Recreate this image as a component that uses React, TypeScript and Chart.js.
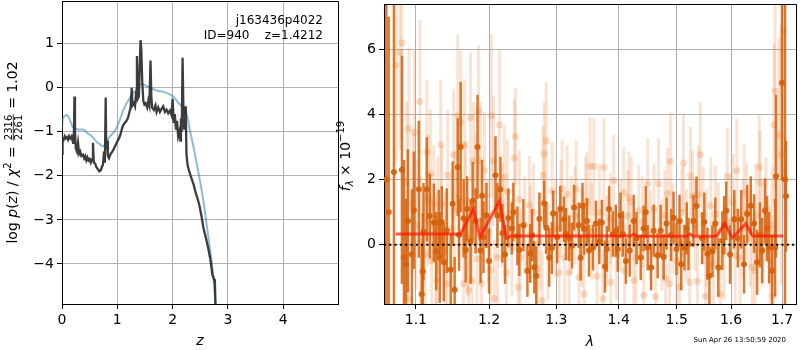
import React, { useEffect, useRef } from "react";
import { Chart, registerables } from "chart.js";
Chart.register(...registerables);

const FONT = "'DejaVu Sans', 'Liberation Sans', sans-serif";

// ---------- Left panel: redshift PDF ----------
const zTicks = [0, 1, 2, 3, 4];
const logpTicks = [1, 0, -1, -2, -3, -4];
const zMin = 0, zMax = 4.99;
const logpMin = -4.91, logpMax = 1.97;

const pzZ = [0.000,0.010,0.030,0.050,0.070,0.090,0.110,0.130,0.150,0.175,
0.200,0.215,0.225,0.235,0.250,0.270,0.290,0.310,0.330,0.350,
0.380,0.400,0.420,0.440,0.460,0.480,0.500,0.520,0.545,0.560,
0.575,0.600,0.620,0.650,0.675,0.700,0.720,0.740,0.760,0.775,
0.790,0.800,0.815,0.830,0.850,0.880,0.910,0.940,0.970,1.000,
1.030,1.060,1.090,1.120,1.150,1.180,1.200,1.220,1.240,1.260,
1.275,1.300,1.320,1.340,1.355,1.370,1.390,1.410,1.420,1.435,
1.450,1.470,1.490,1.510,1.540,1.560,1.580,1.600,1.615,1.630,
1.660,1.690,1.710,1.740,1.770,1.800,1.830,1.860,1.890,1.920,
1.950,1.980,2.000,2.020,2.040,2.060,2.080,2.100,2.120,2.140,
2.150,2.165,2.180,2.195,2.210,2.225,2.240,2.250,2.270,2.300,
2.340,2.380,2.420,2.440,2.480,2.520,2.560,2.600,2.640,2.680,
2.720,2.750,2.765,2.780];
const pzLog = [-1.50,-1.15,-1.18,-1.10,-1.15,-1.12,-1.18,-1.10,-1.15,-1.10,
-1.25,-1.10,-0.20,-1.00,-1.38,-1.45,-1.25,-1.50,-1.45,-1.55,
-1.52,-1.60,-1.55,-1.65,-1.58,-1.65,-1.62,-1.70,-1.62,-1.25,
-1.70,-1.72,-1.80,-1.85,-1.90,-1.88,-1.80,-1.75,-1.45,-1.70,
-0.22,-1.40,-1.20,-1.55,-1.60,-1.50,-1.45,-1.38,-1.30,-1.22,
-1.15,-1.05,-0.90,-0.82,-0.78,-0.72,-0.65,-0.55,-0.45,0.00,
-0.40,-0.35,-0.42,-0.10,0.72,-0.25,-0.20,0.70,1.08,0.85,
0.15,-0.30,-0.38,-0.35,-0.45,-0.30,-0.40,0.62,-0.20,-0.45,
-0.50,-0.40,-0.55,-0.45,-0.55,-0.48,-0.42,-0.55,-0.50,-0.58,
-0.52,-0.62,-0.25,-0.80,-0.60,-0.95,-0.75,-1.10,-1.00,-1.20,
-0.70,-1.00,0.68,-0.50,-0.95,-0.42,-0.70,-1.50,-1.75,-1.90,
-2.05,-2.20,-2.40,-2.47,-2.65,-2.90,-3.20,-3.40,-3.62,-3.88,
-4.25,-4.35,-4.45,-5.20];

const priorZ = [0.00,0.02,0.09,0.14,0.20,0.30,0.39,0.45,0.54,0.62,
0.69,0.75,0.80,0.87,0.93,0.99,1.05,1.11,1.17,1.23,
1.30,1.36,1.41,1.46,1.50,1.60,1.70,1.77,1.85,1.95,
2.03,2.10,2.15,2.20,2.26,2.31,2.37,2.44,2.50,2.56,
2.62,2.68,2.73,2.77,2.80];
const priorLog = [-0.95,-0.68,-0.62,-0.72,-0.90,-0.95,-0.95,-1.02,-1.10,-1.22,
-1.29,-1.33,-1.22,-1.10,-1.02,-0.90,-0.72,-0.50,-0.35,-0.23,
-0.10,0.00,0.07,0.08,0.06,0.00,-0.06,-0.08,-0.10,-0.15,
-0.22,-0.34,-0.40,-0.47,-0.62,-0.95,-1.30,-1.75,-2.15,-2.60,
-3.15,-3.70,-4.20,-4.85,-5.30];

const objName = "j163436p4022";
const objInfo = "ID=940    z=1.4212";
const chi2Num = "2316";
const chi2Den = "2261";
const chi2Val = "1.02";

// ---------- Right panel: spectrum ----------
const lamTicks = [1.1, 1.2, 1.3, 1.4, 1.5, 1.6, 1.7];
const fluxTicks = [0, 2, 4, 6];
const lamMin = 1.0591, lamMax = 1.7285;
const fluxMin = -1.82, fluxMax = 7.39;

const darkWave = [1.062,1.065,1.0717,1.0819,1.0845,1.0871,1.0896,1.0948,1.0974,1.1039,
1.1078,1.1091,1.1100,1.1144,1.1184,1.1237,1.1270,1.1304,1.1317,1.1344,
1.1371,1.1411,1.1465,1.1492,1.1519,1.1561,1.1580,1.1602,1.1643,1.1671,
1.1690,1.1740,1.1768,1.1810,1.1837,1.1879,1.1900,1.1921,1.1963,1.2000,
1.2092,1.2120,1.2163,1.2192,1.2230,1.2279,1.2330,1.2352,1.2411,1.2440,
1.2500,1.2560,1.2602,1.2630,1.2663,1.2693,1.2740,1.2813,1.2844,1.2889,
1.2930,1.2951,1.3012,1.3060,1.3120,1.3151,1.3200,1.3245,1.3277,1.3350,
1.3380,1.3410,1.3434,1.3482,1.3514,1.3578,1.3626,1.3680,1.3723,1.3772,
1.3804,1.3840,1.3902,1.3951,1.3984,1.4030,1.4068,1.4120,1.4185,1.4253,
1.4300,1.4372,1.4420,1.4457,1.4491,1.4550,1.4595,1.4664,1.4716,1.4768,
1.4820,1.4900,1.4943,1.4996,1.5049,1.5080,1.5139,1.5180,1.5211,1.5301,
1.5356,1.5460,1.5500,1.5557,1.5594,1.5650,1.5704,1.5760,1.5835,1.5870,
1.5910,1.5980,1.6062,1.6130,1.6195,1.6250,1.6311,1.6380,1.6445,1.6504,
1.6560,1.6603,1.6662,1.6700,1.6741,1.6800,1.6861,1.6880,1.7000,1.7061,
1.7081];
const darkFlux = [2.0,1.0,2.23,2.3,-0.4,-0.59,0.73,-0.3,1.06,1.7,
-1.52,-0.82,0.4,1.7,0.88,0.68,-0.2,0.68,-0.39,0.7,
-0.54,0.43,-0.77,1.26,-1.38,2.38,0.3,3.0,0.81,-0.16,
1.1,0.1,1.34,0.73,3.0,-0.18,1.5,0.23,0.9,-0.5,
2.13,0.9,1.7,0.35,-0.3,0.82,0.5,1.0,0.27,-0.16,
0.6,-0.8,-0.27,0.3,-0.69,-0.95,0.8,1.27,0.52,-0.39,
-0.1,0.96,0.23,1.1,0.78,0.33,0.2,-0.03,1.14,0.6,
-0.4,1.2,0.48,0.73,-0.18,-0.09,0.65,0.1,0.68,-0.67,
-0.13,1.1,0.33,0.43,-0.13,0.9,0.33,-0.5,-0.18,0.73,
0.2,-0.39,0.5,1.0,-0.09,-0.7,0.43,-0.33,0.43,-0.37,
0.65,0.3,0.83,-0.13,0.73,-0.6,-0.09,0.5,0.02,0.73,
1.19,0.2,0.7,-0.28,-0.95,-0.2,0.65,-0.7,0.12,0.6,
1.04,-0.3,0.78,0.2,0.78,-0.6,0.94,1.2,0.65,-0.54,
0.3,-0.18,1.04,0.5,-0.09,-0.8,-0.09,2.1,4.97,2.0,
1.49];
const darkErr = [6.0,6.0,5.5,3.5,3.0,2.0,2.2,2.0,1.8,2.1,
1.5,1.8,1.5,1.6,1.3,1.2,1.2,1.0,1.4,1.1,
1.2,1.3,1.1,1.3,1.0,1.5,1.1,2.0,1.2,1.0,
1.0,1.3,1.2,1.0,1.6,1.0,1.1,1.1,1.0,1.0,
1.2,1.0,1.0,0.9,0.9,0.9,0.8,0.9,0.9,0.8,
0.8,0.8,0.9,0.8,0.8,0.9,0.8,0.7,0.8,0.9,
0.8,0.7,0.8,0.7,0.7,0.8,0.7,0.7,0.7,0.7,
0.7,0.7,0.8,0.7,0.8,0.7,0.7,0.7,0.7,0.8,
0.7,0.7,0.7,0.8,0.7,0.7,0.7,0.7,0.8,0.8,
0.8,0.7,0.7,0.8,0.7,0.7,0.8,0.7,0.8,0.7,
0.8,0.8,0.8,0.8,0.8,0.8,0.7,0.8,0.8,0.8,
0.9,0.8,0.9,0.8,0.9,0.8,0.8,0.9,0.9,0.9,
0.9,0.9,0.9,0.9,0.9,0.9,0.9,0.9,0.9,1.0,
1.0,1.0,1.0,1.0,1.1,1.1,1.5,2.5,3.0,6.0,
1.7];

const lightWave = [1.0743,1.0794,1.0819,1.0883,1.0896,1.0909,1.0961,1.0983,1.1000,1.1052,
1.1059,1.1120,1.1144,1.1160,1.1192,1.1210,1.1237,1.1264,1.1277,1.1290,
1.1331,1.1344,1.1390,1.1411,1.1424,1.1480,1.1506,1.1520,1.1561,1.1574,
1.1602,1.1643,1.1657,1.1670,1.1700,1.1712,1.1740,1.1760,1.1782,1.1810,
1.1830,1.1851,1.1879,1.1893,1.1935,1.1990,1.2020,1.2034,1.2063,1.2077,
1.2121,1.2149,1.2190,1.2221,1.2250,1.2265,1.2330,1.2367,1.2382,1.2425,
1.2440,1.2455,1.2520,1.2588,1.2604,1.2650,1.2708,1.2750,1.2784,1.2797,
1.2813,1.2844,1.2870,1.2935,1.2990,1.3043,1.3070,1.3090,1.3130,1.3167,
1.3198,1.3230,1.3290,1.3309,1.3355,1.3400,1.3434,1.3460,1.3482,1.3530,
1.3560,1.3594,1.3643,1.3680,1.3740,1.3756,1.3800,1.3860,1.3869,1.3918,
1.3960,1.4030,1.4085,1.4100,1.4152,1.4169,1.4210,1.4253,1.4290,1.4337,
1.4400,1.4423,1.4491,1.4540,1.4600,1.4629,1.4681,1.4740,1.4790,1.4803,
1.4838,1.4872,1.4890,1.4930,1.5000,1.5049,1.5090,1.5121,1.5170,1.5230,
1.5247,1.5283,1.5330,1.5374,1.5392,1.5428,1.5480,1.5519,1.5540,1.5620,
1.5670,1.5704,1.5760,1.5798,1.5870,1.5929,1.5990,1.6040,1.6081,1.6110,
1.6170,1.6230,1.6253,1.6300,1.6370,1.6409,1.6460,1.6480,1.6544,1.6563,
1.6620,1.6680,1.6760,1.6800,1.6822,1.6841,1.6861,1.6940,1.6980,1.7040];
const lightFlux = [5.5,5.9,6.2,1.9,-1.65,3.56,1.25,3.45,0.6,4.4,
0.1,-0.3,2.85,1.37,2.16,-0.49,1.26,-0.24,-1.1,0.9,
3.07,1.25,-0.2,-1.2,2.13,0.5,2.76,1.06,3.95,1.43,
3.77,-1.2,3.07,1.34,0.2,-1.4,3.9,-1.1,2.58,1.64,
-0.44,4.1,2.58,-1.2,2.28,0.4,-0.77,3.96,2.58,-1.65,
-0.39,3.68,0.9,2.07,-0.85,1.64,-0.1,2.66,3.32,-1.3,
1.39,-0.39,0.6,1.22,0.33,1.0,-0.74,0.1,-1.71,2.13,
2.79,3.19,-0.2,1.64,0.5,-0.87,1.1,1.73,-0.4,1.56,
-0.85,0.6,0.9,1.7,-1.0,0.2,-1.52,1.2,1.34,2.41,
0.4,2.4,-0.97,1.0,-1.65,2.38,0.1,0.8,-1.15,1.97,
-0.3,0.6,1.6,-0.79,0.88,1.45,1.3,-1.1,-0.4,1.05,
0.7,-1.55,1.87,0.3,1.1,-1.6,1.87,0.0,0.9,-1.04,
1.57,-1.2,2.56,0.5,-0.5,-1.3,1.0,2.51,0.3,-1.15,
2.12,1.5,0.6,-1.12,1.54,2.77,0.9,-1.58,0.2,1.2,
-0.6,0.94,0.4,-1.52,-0.2,2.1,0.7,1.3,-0.33,2.28,
-0.4,0.5,1.6,1.0,0.2,-0.69,-0.8,0.9,2.38,1.9,
0.3,1.1,-0.5,0.6,-1.55,3.68,4.72,3.35,2.78,6.55];
const lightErr = [3.0,3.0,3.0,2.5,2.5,2.5,2.2,2.5,2.0,2.5,
2.0,2.0,2.2,2.0,2.0,2.0,1.8,1.8,2.0,1.8,
2.0,1.8,1.8,1.8,2.0,1.8,2.0,1.8,2.5,1.8,
2.2,1.8,2.0,1.8,1.8,1.8,2.0,1.8,1.8,1.8,
1.8,2.0,1.8,1.8,1.8,1.6,1.8,2.5,2.0,1.8,
1.7,2.3,1.6,1.6,1.6,1.6,1.5,1.8,1.5,1.5,
1.5,1.5,1.5,1.5,1.5,1.5,1.5,1.5,1.5,1.5,
1.6,1.8,1.5,1.5,1.5,1.5,1.5,1.5,1.5,1.5,
1.5,1.5,1.5,1.5,1.5,1.5,1.5,1.5,1.5,1.5,
1.5,1.5,1.5,1.5,1.5,1.5,1.4,1.4,1.4,1.4,
1.4,1.4,1.4,1.4,1.4,1.4,1.4,1.4,1.4,1.4,
1.4,1.4,1.4,1.4,1.4,1.4,1.4,1.4,1.4,1.4,
1.4,1.4,1.5,1.4,1.4,1.4,1.4,1.5,1.4,1.4,
1.5,1.4,1.4,1.5,1.5,1.6,1.5,1.5,1.5,1.5,
1.5,1.5,1.5,1.5,1.5,1.5,1.5,1.5,1.5,1.6,
1.5,1.5,1.5,1.5,1.5,1.5,1.6,1.6,1.6,1.6,
1.6,1.6,1.7,1.8,2.0,2.5,3.0,3.0,4.0,5.0];

const modelWave = [1.074,1.160,1.178,1.187,1.215,1.225,1.232,1.420,1.425,1.430,1.518,1.524,1.530,1.573,1.588,1.602,1.608,1.628,1.642,1.702];
const modelFlux = [0.33,0.33,1.10,0.22,1.34,0.20,0.27,0.27,0.33,0.27,0.26,0.33,0.26,0.26,0.65,0.22,0.30,0.65,0.27,0.27];

const timeStamp = "Sun Apr 26 13:50:59 2020";

// ---------- helpers ----------
const minusFmt = (v: number) => (v < 0 ? "\u2212" + Math.abs(v) : String(v));

function errorBarPoints(w: number[], f: number[], e: number[]) {
  const pts: { x: number; y: number | null }[] = [];
  w.forEach((x, i) => {
    pts.push({ x, y: f[i] - e[i] }, { x, y: f[i] + e[i] }, { x, y: null });
  });
  return pts;
}
const xy = (xs: number[], ys: number[]) => xs.map((x, i) => ({ x, y: ys[i] }));

type Piece = { t: string; font: string; dy: number } | { num: string; den: string; font: string };

function drawPieces(ctx: CanvasRenderingContext2D, pieces: Piece[]) {
  const widths = pieces.map((p) => {
    ctx.font = p.font;
    if ("t" in p) return ctx.measureText(p.t).width;
    return Math.max(ctx.measureText(p.num).width, ctx.measureText(p.den).width) + 3;
  });
  const total = widths.reduce((a, b) => a + b, 0);
  let x = -total / 2;
  ctx.textBaseline = "alphabetic";
  pieces.forEach((p, i) => {
    ctx.font = p.font;
    const w = widths[i];
    if ("t" in p) {
      ctx.textAlign = "left";
      ctx.fillText(p.t, x, p.dy);
    } else {
      ctx.textAlign = "center";
      ctx.fillText(p.num, x + w / 2, -5.5);
      ctx.fillText(p.den, x + w / 2, 4.5);
      ctx.beginPath();
      ctx.lineWidth = 0.8;
      ctx.moveTo(x + 1, -3.7);
      ctx.lineTo(x + w - 1, -3.7);
      ctx.stroke();
    }
    x += w;
  });
}

function drawFrame(chart: any) {
  const { ctx, chartArea: ca } = chart;
  ctx.save();
  ctx.strokeStyle = "#000";
  ctx.lineWidth = 1;
  ctx.beginPath();
  ctx.moveTo(Math.round(ca.left), Math.round(ca.top) + 0.5);
  ctx.lineTo(Math.round(ca.right) + 0.5, Math.round(ca.top) + 0.5);
  ctx.lineTo(Math.round(ca.right) + 0.5, Math.round(ca.bottom));
  ctx.stroke();
  ctx.restore();
}

const noPad = (s: any) => {
  s.paddingTop = 0;
  s.paddingBottom = 0;
  s.paddingLeft = 0;
  s.paddingRight = 0;
};

const axisBase = (ticks: number[], fmt: (v: number) => string) => ({
  afterBuildTicks: (s: any) => {
    s.ticks = ticks.map((v) => ({ value: v }));
  },
  grid: { color: "#b0b0b0", lineWidth: 1, tickColor: "#000", tickLength: 5, drawTicks: true },
  border: { color: "#000", width: 1 },
  ticks: {
    color: "#000",
    font: { family: FONT, size: 14 },
    padding: 3,
    autoSkip: false,
    maxRotation: 0,
    callback: (v: any) => fmt(Number(v)),
  },
});

const leftPlugin = {
  id: "leftText",
  afterDraw(chart: any) {
    drawFrame(chart);
    const { ctx, chartArea: ca } = chart;
    ctx.save();
    ctx.fillStyle = "#000";
    ctx.strokeStyle = "#000";
    ctx.font = `12px ${FONT}`;
    ctx.textAlign = "right";
    ctx.textBaseline = "alphabetic";
    ctx.fillText(objName, ca.right - 15, 24);
    ctx.fillText(objInfo, ca.right - 15, 39);
    ctx.font = `italic 14px ${FONT}`;
    ctx.textAlign = "center";
    ctx.fillText("z", (ca.left + ca.right) / 2, 345);
    ctx.translate(17, (ca.top + ca.bottom) / 2);
    ctx.rotate(-Math.PI / 2);
    const R = `14px ${FONT}`, I = `italic 14px ${FONT}`, S = `10px ${FONT}`;
    drawPieces(ctx, [
      { t: "log ", font: R, dy: 0 },
      { t: "p", font: I, dy: 0 },
      { t: "(", font: R, dy: 0 },
      { t: "z", font: I, dy: 0 },
      { t: ") / ", font: R, dy: 0 },
      { t: "\u03c7", font: I, dy: 0 },
      { t: "2", font: S, dy: -6 },
      { t: " = ", font: R, dy: 0 },
      { num: chi2Num, den: chi2Den, font: S },
      { t: " = " + chi2Val, font: R, dy: 0 },
    ]);
    ctx.restore();
  },
};

const rightPlugin = {
  id: "rightText",
  afterDraw(chart: any) {
    drawFrame(chart);
    const { ctx, chartArea: ca } = chart;
    ctx.save();
    ctx.fillStyle = "#000";
    ctx.font = `italic 14px ${FONT}`;
    ctx.textAlign = "center";
    ctx.textBaseline = "alphabetic";
    ctx.fillText("\u03bb", (ca.left + ca.right) / 2, 346);
    ctx.font = `7px ${FONT}`;
    ctx.textAlign = "right";
    ctx.fillText(timeStamp, ca.right - 10, 342);
    ctx.translate(20, (ca.top + ca.bottom) / 2 + 2);
    ctx.rotate(-Math.PI / 2);
    const R = `14px ${FONT}`, I = `italic 14px ${FONT}`, S = `10px ${FONT}`, SI = `italic 10px ${FONT}`;
    drawPieces(ctx, [
      { t: "f", font: I, dy: 0 },
      { t: "\u03bb", font: SI, dy: 3 },
      { t: " \u00d7 10", font: R, dy: 0 },
      { t: "\u221219", font: S, dy: -6 },
    ]);
    ctx.restore();
  },
};

function LeftChart() {
  const ref = useRef<HTMLCanvasElement>(null);
  useEffect(() => {
    const chart = new Chart(ref.current as HTMLCanvasElement, {
      type: "line",
      data: {
        datasets: [
          {
            data: xy(pzZ, pzLog),
            borderColor: "rgba(40,40,40,0.9)",
            borderWidth: 2.3,
            pointRadius: 0,
            tension: 0,
            order: 0,
          },
          {
            data: xy(priorZ, priorLog),
            borderColor: "rgba(31,119,180,0.5)",
            borderWidth: 2,
            pointRadius: 0,
            tension: 0.3,
            order: 1,
          },
        ],
      },
      options: {
        animation: false,
        responsive: false,
        devicePixelRatio: 1,
        layout: { padding: { top: 1, right: 2, left: 0, bottom: 0 } },
        plugins: { legend: { display: false }, tooltip: { enabled: false } },
        scales: {
          x: {
            type: "linear",
            min: zMin,
            max: zMax,
            afterFit: (s: any) => {
              s.height = 46;
              noPad(s);
            },
            ...axisBase(zTicks, (v) => String(v)),
          },
          y: {
            type: "linear",
            min: logpMin,
            max: logpMax,
            afterFit: (s: any) => {
              s.width = 62;
              noPad(s);
            },
            ...axisBase(logpTicks, minusFmt),
          },
        },
      } as any,
      plugins: [leftPlugin],
    });
    return () => chart.destroy();
  }, []);
  return <canvas ref={ref} width={340} height={350} style={{ position: "absolute", left: 0, top: 0 }} />;
}

function RightChart() {
  const ref = useRef<HTMLCanvasElement>(null);
  useEffect(() => {
    const chart = new Chart(ref.current as HTMLCanvasElement, {
      type: "line",
      data: {
        datasets: [
          {
            data: [
              { x: lamMin, y: 0 },
              { x: lamMax, y: 0 },
            ],
            borderColor: "#000",
            borderWidth: 2,
            borderDash: [2, 3.3],
            pointRadius: 0,
            order: 0,
          },
          {
            data: xy(modelWave, modelFlux),
            borderColor: "rgba(255,20,0,0.7)",
            borderWidth: 3,
            pointRadius: 0,
            tension: 0,
            order: 1,
          },
          {
            data: xy(darkWave, darkFlux),
            showLine: false,
            pointRadius: 3,
            pointBorderWidth: 0,
            pointBackgroundColor: "rgba(214,98,12,0.95)",
            order: 2,
          },
          {
            data: errorBarPoints(darkWave, darkFlux, darkErr),
            borderColor: "rgba(214,98,12,0.85)",
            borderWidth: 2.5,
            pointRadius: 0,
            spanGaps: false,
            segment: {},
            order: 3,
          },
          {
            data: xy(lightWave, lightFlux),
            showLine: false,
            pointRadius: 3.5,
            pointBorderWidth: 0,
            pointBackgroundColor: "rgba(232,125,45,0.27)",
            order: 4,
          },
          {
            data: errorBarPoints(lightWave, lightFlux, lightErr),
            borderColor: "rgba(232,125,45,0.21)",
            borderWidth: 3,
            pointRadius: 0,
            spanGaps: false,
            segment: {},
            order: 5,
          },
        ],
      },
      options: {
        animation: false,
        responsive: false,
        devicePixelRatio: 1,
        layout: { padding: { top: 1, right: 2, left: 0, bottom: 0 } },
        plugins: { legend: { display: false }, tooltip: { enabled: false } },
        scales: {
          x: {
            type: "logarithmic",
            min: lamMin,
            max: lamMax,
            afterFit: (s: any) => {
              s.height = 46;
              noPad(s);
            },
            ...axisBase(lamTicks, (v) => v.toFixed(1)),
          },
          y: {
            type: "linear",
            min: fluxMin,
            max: fluxMax,
            afterFit: (s: any) => {
              s.width = 54;
              noPad(s);
            },
            ...axisBase(fluxTicks, (v) => String(v)),
          },
        },
      } as any,
      plugins: [rightPlugin],
    });
    return () => chart.destroy();
  }, []);
  return <canvas ref={ref} width={470} height={350} style={{ position: "absolute", left: 330, top: 0 }} />;
}

export default function App() {
  return (
    <div style={{ position: "fixed", left: 0, top: 0, width: 800, height: 350, background: "#fff" }}>
      <LeftChart />
      <RightChart />
    </div>
  );
}
